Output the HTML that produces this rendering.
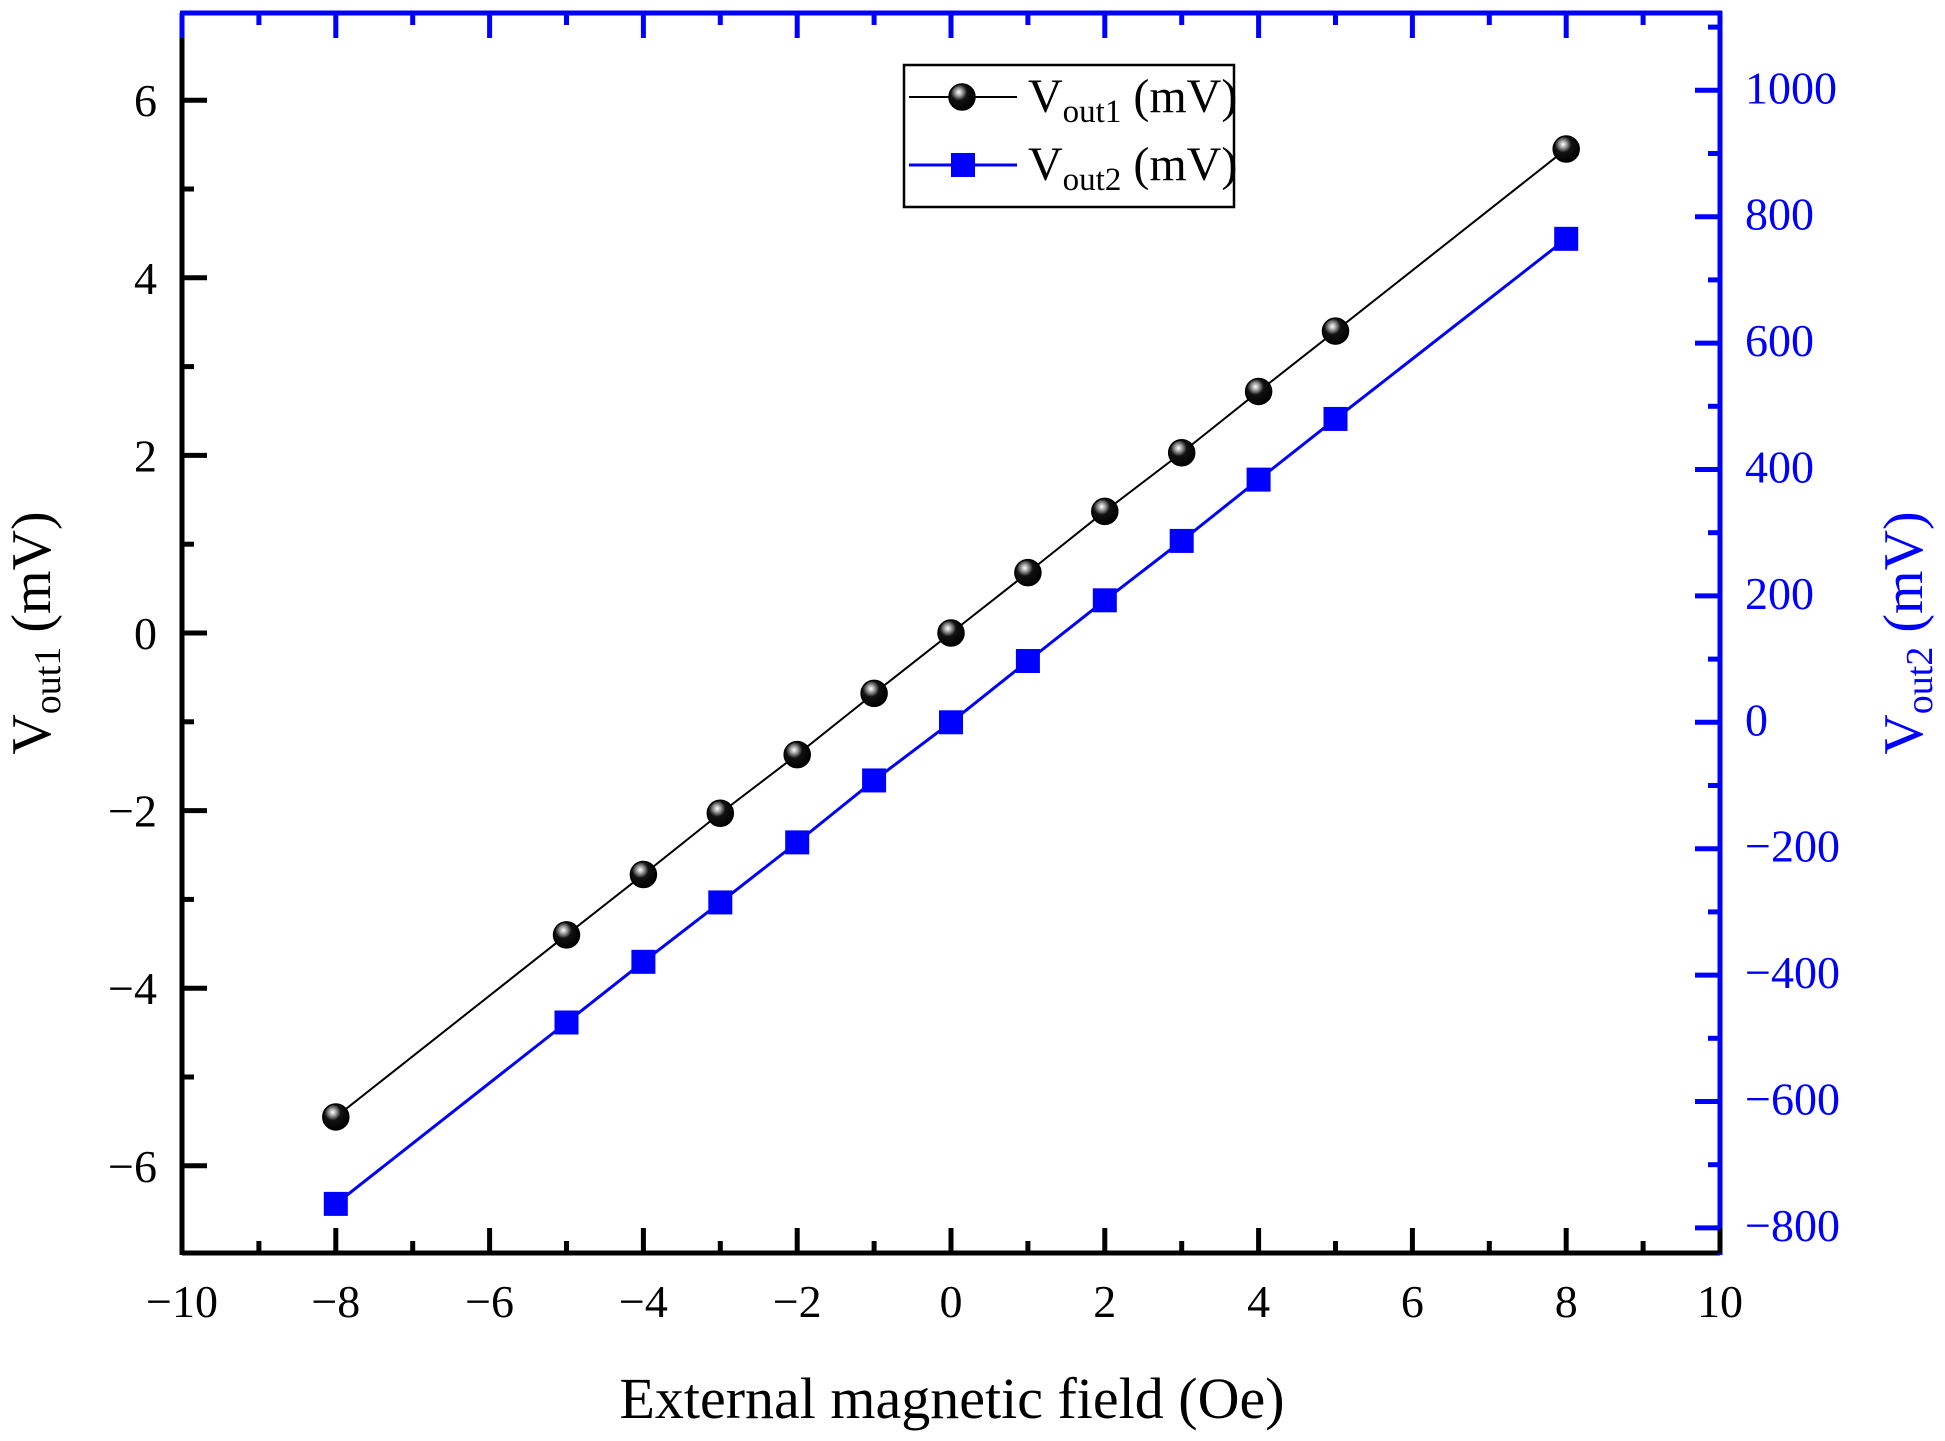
<!DOCTYPE html>
<html><head><meta charset="utf-8"><style>
html,body{margin:0;padding:0;background:#fff;}
svg{display:block;font-family:"Liberation Serif",serif;}
</style></head><body>
<svg id="chart" width="1945" height="1441" viewBox="0 0 1945 1441" xmlns="http://www.w3.org/2000/svg">
<defs>
<radialGradient id="sph" cx="0.38" cy="0.32" r="0.7">
<stop offset="0" stop-color="#fff"/><stop offset="0.18" stop-color="#aaa"/><stop offset="0.45" stop-color="#111"/><stop offset="1" stop-color="#000"/>
</radialGradient>
</defs>
<g id="plot"></g>
</svg>
<script>
const fieldX = [-8,-5,-4,-3,-2,-1,0,1,2,3,4,5,8];
const vout1 = [-5.45,-3.4,-2.72,-2.03,-1.37,-0.68,0,0.68,1.37,2.03,2.72,3.4,5.45];
const vout2 = [-762,-475,-379,-285,-190,-92,0,97,193,287,384,480,765];
const xTicks = [-10,-8,-6,-4,-2,0,2,4,6,8,10];
const yLeftTicks = [-6,-4,-2,0,2,4,6];
const yRightTicks = [-800,-600,-400,-200,0,200,400,600,800,1000];

const L=182,R=1720,T=13,B=1253;
const sx=v=>L+(v+10)/20*(R-L);
const syL=v=>633-v*88.8;
const syR=v=>722.3-v*0.632;
const NS='http://www.w3.org/2000/svg';
const g=document.getElementById('plot');
function mk(tag,attrs,parent){const e=document.createElementNS(NS,tag);for(const k in attrs)e.setAttribute(k,attrs[k]);(parent||g).appendChild(e);return e;}
const lbl=s=>s<0?'\u2212'+Math.abs(s):String(s);

let e;
e=mk('line',{x1:L,y1:B,x2:R,y2:B,stroke:'#000','stroke-width':5});


e=mk('line',{x1:L,y1:T,x2:L,y2:B+2,stroke:'#000','stroke-width':5});


e=mk('line',{x1:L-2,y1:T,x2:R+2,y2:T,stroke:'#00f','stroke-width':5});


e=mk('line',{x1:R,y1:T-2,x2:R,y2:B+2,stroke:'#00f','stroke-width':5});



for(let v=-10;v<=10;v++){
  const maj=v%2===0, len=maj?25:12;
  mk('line',{x1:sx(v),y1:B,x2:sx(v),y2:B-len,stroke:'#000','stroke-width':5});
  mk('line',{x1:sx(v),y1:T,x2:sx(v),y2:T+len,stroke:'#00f','stroke-width':5});
}
xTicks.forEach(v=>{
  const t=mk('text',{x:sx(v),y:1317,'font-size':46,'text-anchor':'middle'});
  t.textContent=lbl(v);
  
  
});
for(let v=-7;v<=7;v++){
  const y=syL(v); if(y<T||y>B) continue;
  const len=(v%2===0)?25:12;
  mk('line',{x1:L,y1:y,x2:L+len,y2:y,stroke:'#000','stroke-width':5});
}
yLeftTicks.forEach(v=>{
  const t=mk('text',{x:157,y:syL(v)+16,'font-size':46,'text-anchor':'end'});
  t.textContent=lbl(v);
  
  
});
for(let v=-800;v<=1100;v+=100){
  const y=syR(v); if(y<T||y>B) continue;
  const len=(v%200===0)?25:12;
  mk('line',{x1:R,y1:y,x2:R-len,y2:y,stroke:'#00f','stroke-width':5});
}
yRightTicks.forEach(v=>{
  const t=mk('text',{x:1745,y:syR(v)+13,'font-size':46,fill:'#00f'});
  t.textContent=lbl(v);
  
  
});

let p1=fieldX.map((x,i)=>sx(x)+','+syL(vout1[i])).join(' ');
e=mk('polyline',{points:p1,fill:'none',stroke:'#000','stroke-width':2});


fieldX.forEach((x,i)=>{
  const c=mk('circle',{cx:sx(x),cy:syL(vout1[i]),r:13,fill:'url(#sph)',stroke:'#000','stroke-width':1.5});
  
  
});
let p2=fieldX.map((x,i)=>sx(x)+','+syR(vout2[i])).join(' ');
e=mk('polyline',{points:p2,fill:'none',stroke:'#00f','stroke-width':3});


fieldX.forEach((x,i)=>{
  const r=mk('rect',{x:sx(x)-12,y:syR(vout2[i])-12,width:24,height:24,fill:'#00f'});
  
  
});
</script>
<svg width="1945" height="1441" viewBox="0 0 1945 1441" xmlns="http://www.w3.org/2000/svg" style="position:absolute;left:0;top:0;font-family:'Liberation Serif',serif">
<text x="952" y="1418" font-size="58" text-anchor="middle">External magnetic field (Oe)</text>
<text transform="translate(50,633) rotate(-90)" font-size="56" text-anchor="middle">V<tspan font-size="38" dy="10">out1</tspan><tspan dy="-10"> (mV)</tspan></text>
<text transform="translate(1922,633) rotate(-90)" font-size="56" text-anchor="middle" fill="#00f">V<tspan font-size="38" dy="10">out2</tspan><tspan dy="-10"> (mV)</tspan></text>
<g>
<rect x="904" y="65" width="330" height="142" fill="#fff" stroke="#000" stroke-width="2.5"/>
<line x1="909" y1="97" x2="1017" y2="97" stroke="#000" stroke-width="2"/>
<circle cx="962" cy="97" r="13" fill="url(#sph)" stroke="#000" stroke-width="1.5"/>
<text x="1028" y="112" font-size="48">V<tspan font-size="33" dy="10">out1</tspan><tspan dy="-10"> (mV)</tspan></text>
<line x1="909" y1="165" x2="1017" y2="165" stroke="#00f" stroke-width="3"/>
<rect x="951" y="153" width="24" height="24" fill="#00f"/>
<text x="1028" y="180" font-size="48">V<tspan font-size="33" dy="10">out2</tspan><tspan dy="-10"> (mV)</tspan></text>
</g>
</svg>
</body></html>
